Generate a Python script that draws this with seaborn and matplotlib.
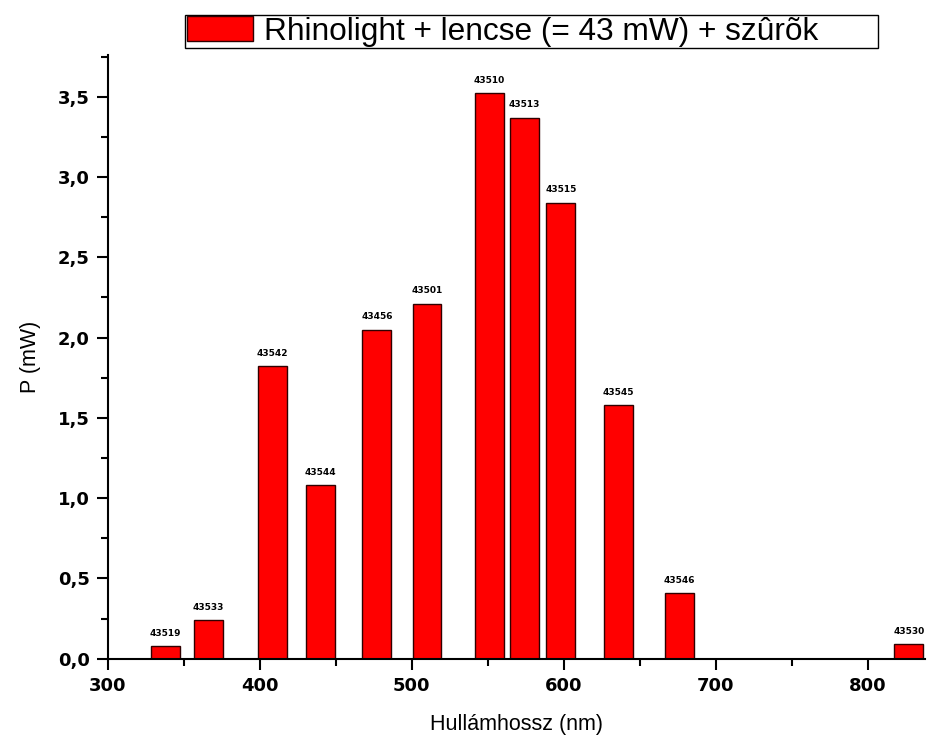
import matplotlib
matplotlib.use("Agg")
import matplotlib.pyplot as plt
import matplotlib.ticker as mticker
from matplotlib.patches import Patch
import seaborn as sns
import pandas as pd

# wavelength (nm), power (mW) and the filter id written above each bar
wavelength = [338, 366, 408, 440, 477, 510, 551, 574, 598, 636, 676, 827]
power = [0.08, 0.24, 1.82, 1.08, 2.05, 2.21, 3.52, 3.37, 2.84, 1.58, 0.41, 0.09]
filter_ids = ["43519", "43533", "43542", "43544", "43456", "43501",
              "43510", "43513", "43515", "43545", "43546", "43530"]
legend_label = "Rhinolight + lencse (= 43 mW) + szûrõk"

df = pd.DataFrame({"wl": wavelength, "P": power})

sns.set_style("white")
plt.rcParams["font.family"] = ["Liberation Sans", "DejaVu Sans"]
plt.rcParams["text.color"] = "black"
plt.rcParams["axes.labelcolor"] = "black"
plt.rcParams["xtick.color"] = "black"
plt.rcParams["ytick.color"] = "black"

fig = plt.figure(figsize=(9.31, 7.52), dpi=100)
ax = fig.add_axes([0.116, 0.124, 0.878, 0.803])

sns.barplot(data=df, x="wl", y="P", native_scale=True, width=19 / 23,
            color="#ff0000", saturation=1, edgecolor="#300000", linewidth=1,
            ax=ax)

for x, y, lab in zip(wavelength, power, filter_ids):
    ax.annotate(lab, (x, y), xytext=(0, 6), textcoords="offset points",
                ha="center", va="bottom", fontsize=6.5, fontweight="bold",
                family="DejaVu Sans")

ax.set_xlim(300, 838)
ax.set_ylim(0, 3.76)
ax.xaxis.set_major_locator(mticker.MultipleLocator(100))
ax.xaxis.set_minor_locator(mticker.MultipleLocator(50))
ax.yaxis.set_major_locator(mticker.MultipleLocator(0.5))
ax.yaxis.set_minor_locator(mticker.MultipleLocator(0.25))
ax.yaxis.set_major_formatter(
    mticker.FuncFormatter(lambda v, p: f"{v:.1f}".replace(".", ",")))
ax.xaxis.set_major_formatter(mticker.FuncFormatter(lambda v, p: f"{v:.0f}"))

for side in ["top", "right"]:
    ax.spines[side].set_visible(False)
for side in ["left", "bottom"]:
    ax.spines[side].set_color("black")
    ax.spines[side].set_linewidth(1.5)

ax.tick_params(which="major", direction="out", length=8, width=1.5,
               labelsize=13, color="black", labelcolor="black",
               bottom=True, left=True, pad=5)
ax.tick_params(which="minor", direction="out", length=5, width=1.5,
               color="black", bottom=True, left=True)
for t in ax.get_xticklabels() + ax.get_yticklabels():
    t.set_fontweight("bold")
    t.set_family("DejaVu Sans")

ax.set_xlabel("Hullámhossz (nm)", fontsize=15.5, labelpad=14)
ax.set_ylabel("P (mW)", fontsize=15.5, labelpad=12)

handle = Patch(facecolor="#ff0000", edgecolor="#300000", linewidth=1)
fig.legend([handle], [legend_label], loc="lower left",
           bbox_to_anchor=(0.199, 0.936, 0.744, 0.048), mode="expand",
           fontsize=22.8, frameon=True, fancybox=False, edgecolor="black",
           framealpha=1, borderpad=0.05, handlelength=2.1, handleheight=0.8,
           handletextpad=0.35, borderaxespad=0)

fig.savefig("out.png", dpi=100)
